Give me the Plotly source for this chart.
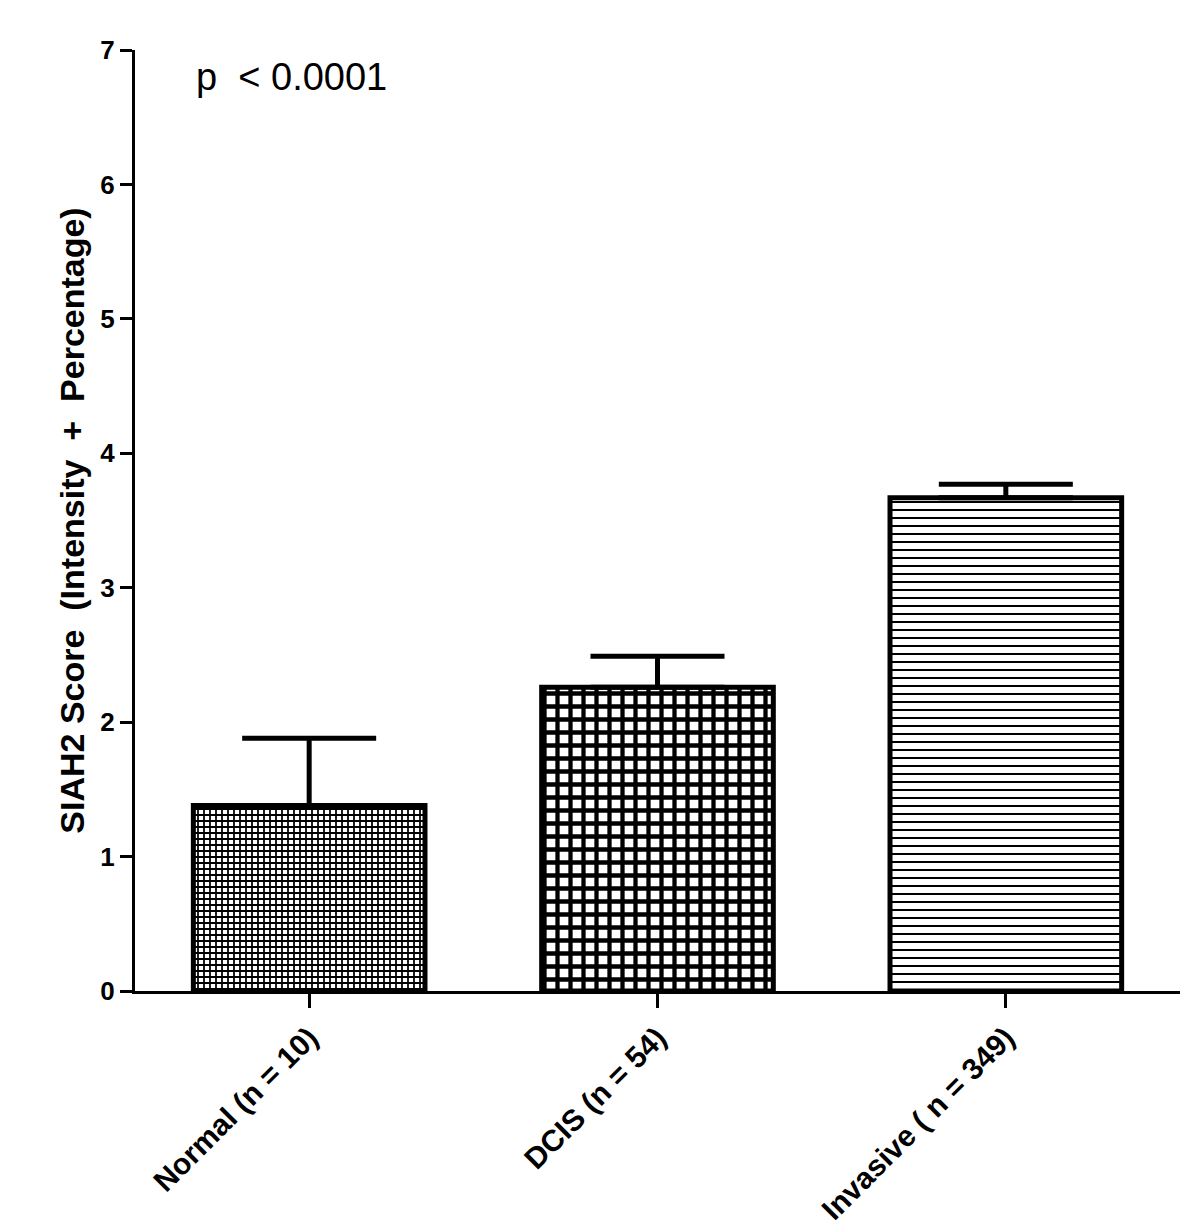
import plotly.graph_objects as go

categories = ["Normal (n = 10)", "DCIS (n = 54)", "Invasive ( n = 349)"]
means = [1.38, 2.26, 3.67]
upper = [1.88, 2.49, 3.77]
patterns = ["+", "+", "-"]
pattern_sizes = [6, 13, 8]
pattern_solidity = [0.5, 0.55, 0.25]
y_ticks = [0, 1, 2, 3, 4, 5, 6, 7]
p_text = "p  < 0.0001"

err_plus = [u - m for u, m in zip(upper, means)]
xpos = list(range(len(categories)))

font_family = "Liberation Sans, Arial, sans-serif"

fig = go.Figure()
for i in xpos:
    fig.add_trace(go.Bar(
        x=[i], y=[means[i]],
        width=0.665,
        marker=dict(
            color="white",
            line=dict(color="black", width=5),
            pattern=dict(shape=patterns[i], size=pattern_sizes[i],
                         solidity=pattern_solidity[i],
                         fgcolor="black", bgcolor="white", fillmode="replace"),
        ),
        error_y=dict(type="data", symmetric=False, array=[err_plus[i]],
                     arrayminus=[0], color="black", thickness=5, width=67),
        showlegend=False,
        hoverinfo="skip",
    ))

fig.add_annotation(
    x=-0.33, y=6.8, xref="x", yref="y", text=p_text, showarrow=False,
    xanchor="left", yanchor="middle",
    font=dict(family=font_family, size=38, color="black"),
)

fig.update_layout(
    width=1200, height=1230,
    margin=dict(l=127, r=28, t=42, b=245),
    plot_bgcolor="white", paper_bgcolor="white",
    font=dict(family=font_family, color="black"),
    bargap=0.3,
)
fig.update_xaxes(
    range=[-0.5, 2.5],
    tickmode="array", tickvals=xpos, ticktext=categories,
    tickangle=-45,
    tickfont=dict(family=font_family, size=30, color="black", weight="bold"),
    showline=True, linecolor="black", linewidth=3,
    ticks="outside", ticklen=14, tickwidth=3, tickcolor="black",
    showgrid=False, zeroline=False,
)
fig.update_yaxes(
    range=[0, 7],
    tickmode="array", tickvals=y_ticks, ticktext=[str(t) for t in y_ticks],
    tickfont=dict(family=font_family, size=26, color="black", weight="bold"),
    title=dict(text="SIAH2 Score  (Intensity  +  Percentage)",
               font=dict(family=font_family, size=34, color="black", weight="bold"),
               standoff=6),
    showline=True, linecolor="black", linewidth=3,
    ticks="outside", ticklen=12, tickwidth=3, tickcolor="black",
    showgrid=False, zeroline=False,
)

fig.write_html("out.html")
